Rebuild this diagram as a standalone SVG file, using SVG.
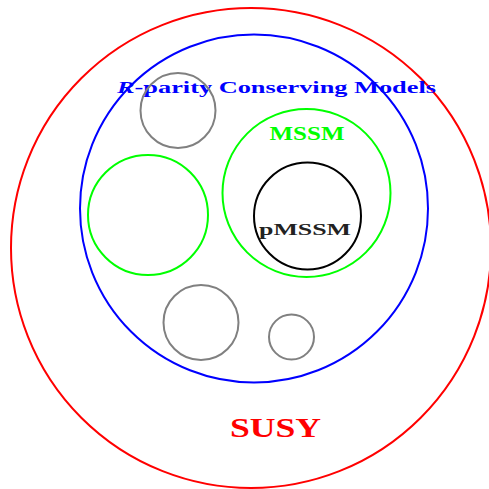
<svg xmlns="http://www.w3.org/2000/svg" width="489" height="489" viewBox="0 0 489 489">
<style>
.c{fill:none;stroke-width:2}
.t{font-family:"Liberation Serif","DejaVu Serif",serif;font-weight:bold;text-anchor:middle}
</style>
<rect width="489" height="489" fill="#fff"/>
<g id="susy"><circle class="c" cx="251" cy="248" r="240" stroke="#f00"/><text class="t" x="275.5" y="437" font-size="27" fill="#f00" textLength="91" lengthAdjust="spacingAndGlyphs">SUSY</text></g>
<g id="rparity"><circle class="c" cx="254" cy="208.5" r="174" stroke="#00f"/><text class="t" x="276.5" y="93" font-size="16" fill="#00f" textLength="319" lengthAdjust="spacingAndGlyphs"><tspan font-style="italic">R</tspan>-parity Conserving Models</text></g>
<g id="gray1"><circle class="c" cx="178" cy="110.5" r="37.5" stroke="#808080"/></g>
<g id="mssm"><circle class="c" cx="306.5" cy="193" r="84" stroke="#0f0"/><text class="t" x="307" y="140" font-size="18" fill="#0f0" textLength="75" lengthAdjust="spacingAndGlyphs">MSSM</text></g>
<g id="green2"><circle class="c" cx="148" cy="215" r="60" stroke="#0f0"/></g>
<g id="pmssm"><circle class="c" cx="307.5" cy="216" r="53.5" stroke="#000"/><text class="t" x="305" y="235" font-size="17" fill="#222" textLength="92" lengthAdjust="spacingAndGlyphs">pMSSM</text></g>
<g id="gray2"><circle class="c" cx="201" cy="322.5" r="37.5" stroke="#808080"/></g>
<g id="gray3"><circle class="c" cx="291.5" cy="337" r="22.5" stroke="#808080"/></g>
<g id="connectors"/>
</svg>
